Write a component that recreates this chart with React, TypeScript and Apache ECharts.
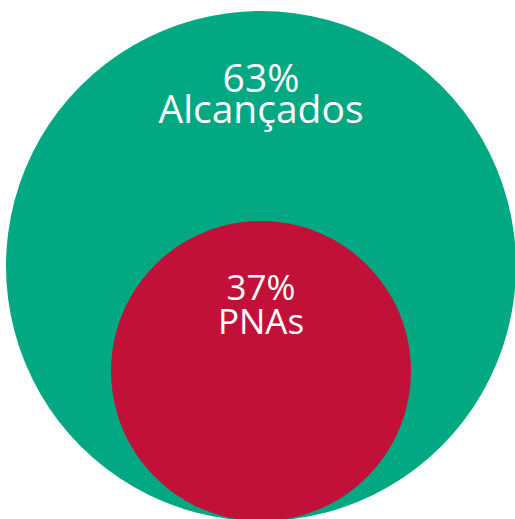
import React, { useEffect, useRef } from "react";
import * as echarts from "echarts";

const categories = ["Alcançados", "PNAs"];
const percentages = [63, 37];
const radii = [255, 150];
const colors = ["#02A882", "#C21139"];

export default function App() {
  const ref = useRef<HTMLDivElement>(null);
  useEffect(() => {
    const chart = echarts.init(ref.current!, null, { renderer: "svg" });
    const labelStyles = [
      { fontSize: 39, lineHeight: 31, offset: [0, -174] },
      { fontSize: 35, lineHeight: 34, offset: [0, -68] },
    ];
    chart.setOption({
      animation: false,
      grid: { left: 7, right: 0, top: 0, bottom: 0 },
      xAxis: { type: "category", data: ["total"], show: false },
      yAxis: { type: "value", min: 2, max: 521, show: false },
      series: [
        {
          type: "scatter",
          silent: true,
          data: categories.map((name, i) => ({
            name,
            value: [0, radii[i]],
            symbolSize: radii[i] * 2,
            itemStyle: { color: colors[i], opacity: 1 },
            label: {
              show: true,
              position: "inside",
              offset: labelStyles[i].offset,
              formatter: () => `{v|${percentages[i]}%}\n{v|${name}}`,
              rich: {
                v: {
                  color: "#ffffff",
                  fontFamily: "Open Sans",
                  fontSize: labelStyles[i].fontSize,
                  lineHeight: labelStyles[i].lineHeight,
                  align: "center",
                },
              },
            },
          })),
        },
      ],
    });
    return () => chart.dispose();
  }, []);
  return (
    <div
      ref={ref}
      style={{ position: "absolute", left: 0, top: 0, width: 515, height: 519 }}
    />
  );
}
